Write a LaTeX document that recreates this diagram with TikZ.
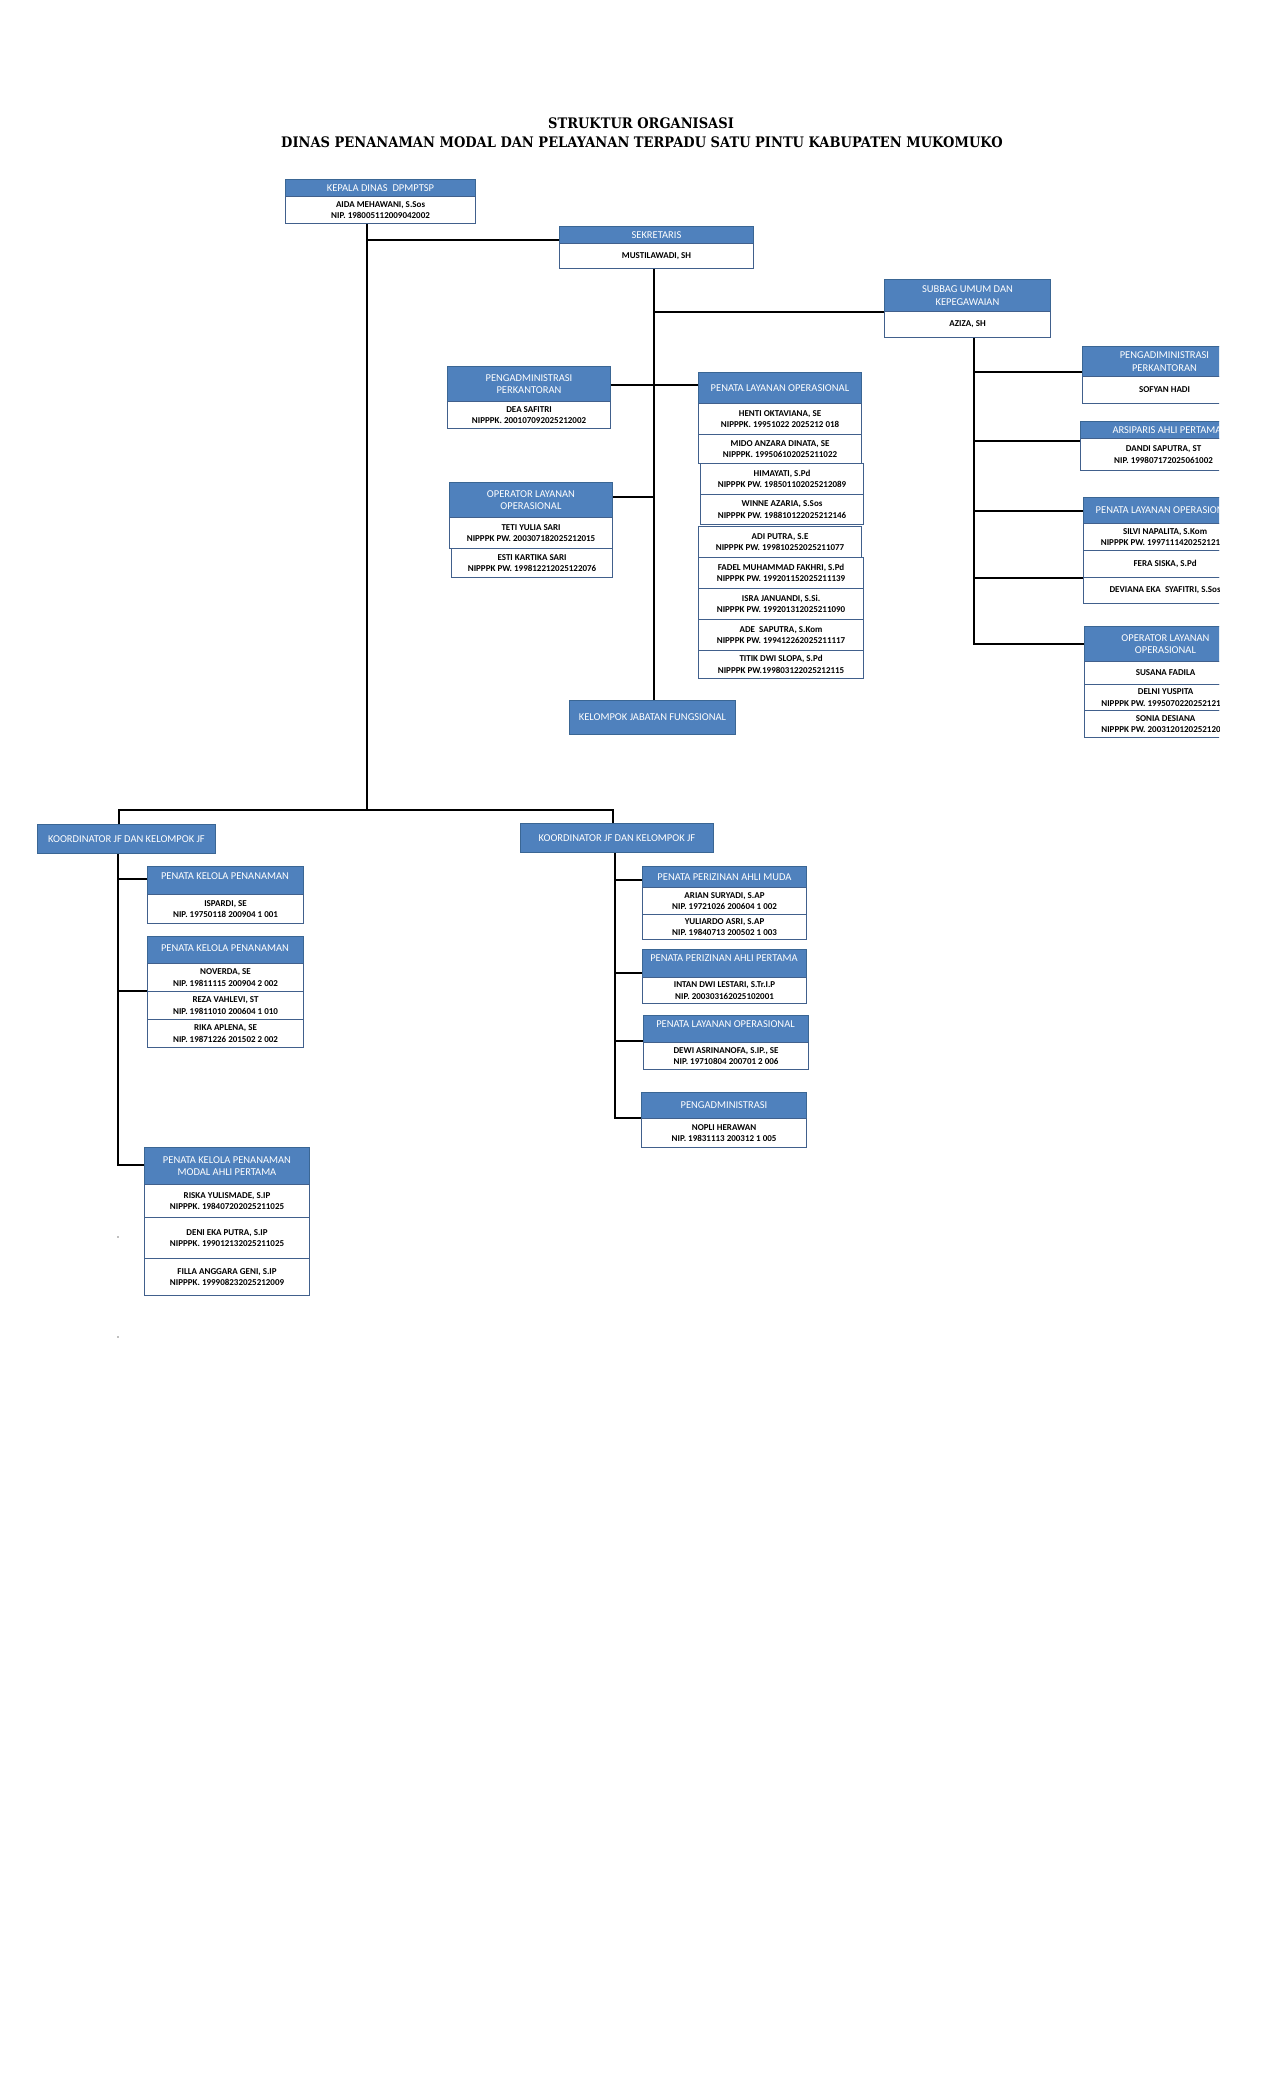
\documentclass[tikz,border=0pt]{standalone}
\usepackage{fontspec}
\usepackage{graphicx}
\setmainfont{Carlito}
\newfontfamily\titlefont{DejaVu Serif}
\definecolor{hdrblue}{HTML}{4F81BD}
\definecolor{hdrline}{HTML}{3A6694}
\definecolor{bodline}{HTML}{41608C}
\tikzset{
 hdr/.style={draw=hdrline, fill=hdrblue, line width=0.9pt, inner sep=0pt, text=white, font=\fontsize{10.5}{12.5}\selectfont, align=center},
 bod/.style={draw=bodline, fill=white, line width=1.1pt, inner sep=0pt, text=black, font=\fontsize{9}{11.5}\selectfont\bfseries, align=center},
 lbl/.style={inner sep=0pt, text=white, font=\fontsize{10.5}{12.5}\selectfont, align=center},
 conn/.style={line width=1.6pt, black},
 ttl/.style={inner sep=0pt, font=\titlefont\bfseries\fontsize{14.5}{17}\selectfont},
}
\newcommand\ubox[7]{\node[#1, anchor=north west, minimum width={(#5-#3)*1pt}, minimum height={(#6-#4)*1pt}] (#2) at (#3,#4) {#7};}
\begin{document}
\begin{tikzpicture}[x=1pt,y=-1pt]
\useasboundingbox[fill=white] (0,0) rectangle (1275,2100);
\begin{scope}
\clip (0,0) rectangle (1219,2100);
% title
\node[ttl] (title1) at (641,123) {\scalebox{0.9}[1]{STRUKTUR ORGANISASI}};
\node[ttl] (title2) at (642,142) {\scalebox{0.9}[1]{DINAS PENANAMAN MODAL DAN PELAYANAN TERPADU SATU PINTU KABUPATEN MUKOMUKO}};

% junction coordinates
\coordinate (mainx) at (367,810);
\coordinate (js) at (367,240);
\coordinate (sv) at (654,700);
\coordinate (b1) at (654,312);
\coordinate (b2) at (654,385);
\coordinate (b3) at (654,497);
\coordinate (uv) at (974,644);
\coordinate (u1) at (974,372);
\coordinate (u2) at (974,441);
\coordinate (u3) at (974,511);
\coordinate (u4) at (974,578);
\coordinate (bl) at (119,810);
\coordinate (br) at (613,810);
\coordinate (kv) at (118,1165);
\coordinate (k1) at (118,879);
\coordinate (k2) at (118,991);
\coordinate (rv) at (615,1118);
\coordinate (r1) at (615,880);
\coordinate (r2) at (615,973);
\coordinate (r3) at (615,1041);

% kepala dinas
\ubox{hdr}{kdh}{285}{179}{475}{196}{KEPALA DINAS\ \ DPMPTSP}
\ubox{bod}{kdb}{285}{196}{475}{223}{AIDA MEHAWANI, S.Sos\\NIP. 198005112009042002}
% sekretaris
\ubox{hdr}{sekh}{559}{226}{753}{243}{SEKRETARIS}
\ubox{bod}{sekb}{559}{243}{753}{268}{MUSTILAWADI, SH}
% subbag
\ubox{hdr}{subh}{884}{279}{1050}{311}{SUBBAG UMUM DAN\\KEPEGAWAIAN}
\ubox{bod}{subb}{884}{311}{1050}{337}{AZIZA, SH}

% right column
\ubox{hdr}{rpah}{1082}{346}{1246}{376}{PENGADIMINISTRASI\\PERKANTORAN}
\ubox{bod}{rpab}{1082}{376}{1246}{403}{SOFYAN HADI}
\ubox{hdr}{arsh}{1080}{421}{1246}{438}{}
\node[lbl] (arsh-t) at (1167,430) {ARSIPARIS AHLI PERTAMA};
\ubox{bod}{arsb}{1080}{438}{1246}{470}{DANDI SAPUTRA, ST\\NIP. 199807172025061002}
\ubox{hdr}{rplh}{1083}{497}{1246}{523}{PENATA LAYANAN OPERASIONAL}
\ubox{bod}{rpl1}{1083}{523}{1246}{550}{SILVI NAPALITA, S.Kom\\NIPPPK PW. 1997111420252121\phantom{00}}
\ubox{bod}{rpl2}{1083}{550}{1246}{577}{FERA SISKA, S.Pd}
\ubox{bod}{rpl3}{1083}{577}{1246}{603}{DEVIANA EKA\ \ SYAFITRI, S.Sos}
\ubox{hdr}{rolh}{1084}{626}{1246}{661}{OPERATOR LAYANAN\\OPERASIONAL}
\ubox{bod}{rol1}{1084}{661}{1246}{684}{SUSANA FADILA}
\ubox{bod}{rol2}{1084}{684}{1246}{710}{DELNI YUSPITA\\NIPPPK PW. 1995070220252121\phantom{00}}
\ubox{bod}{rol3}{1084}{710}{1246}{737}{SONIA DESIANA\\NIPPPK PW. 2003120120252120\phantom{00}}

% left column
\ubox{hdr}{lpah}{447}{366}{610}{401}{PENGADMINISTRASI\\PERKANTORAN}
\ubox{bod}{lpab}{447}{401}{610}{428}{DEA SAFITRI\\NIPPPK. 200107092025212002}
\ubox{hdr}{lolh}{449}{482}{612}{517}{OPERATOR LAYANAN\\OPERASIONAL}
\ubox{bod}{lol1}{449}{517}{612}{548}{TETI YULIA SARI\\NIPPPK PW. 200307182025212015}
\ubox{bod}{lol2}{451}{548}{612}{577}{ESTI KARTIKA SARI\\NIPPPK PW. 199812212025122076}

% middle column
\ubox{hdr}{mplh}{698}{372}{861}{403}{PENATA LAYANAN OPERASIONAL}
\ubox{bod}{m1}{698}{403}{861}{434}{HENTI OKTAVIANA, SE\\NIPPPK. 19951022 2025212 018}
\ubox{bod}{m2}{698}{434}{861}{463}{MIDO ANZARA DINATA, SE\\NIPPPK. 199506102025211022}
\ubox{bod}{m3}{700}{463}{863}{494}{HIMAYATI, S.Pd\\NIPPPK PW. 198501102025212089}
\ubox{bod}{m4}{700}{494}{863}{524}{WINNE AZARIA, S.Sos\\NIPPPK PW. 198810122025212146}
\ubox{bod}{m5}{698}{526}{861}{557}{ADI PUTRA, S.E\\NIPPPK PW. 199810252025211077}
\ubox{bod}{m6}{698}{557}{863}{588}{FADEL MUHAMMAD FAKHRI, S.Pd\\NIPPPK PW. 199201152025211139}
\ubox{bod}{m7}{698}{588}{863}{619}{ISRA JANUANDI, S.Si.\\NIPPPK PW. 199201312025211090}
\ubox{bod}{m8}{698}{619}{863}{650}{ADE\ \ SAPUTRA, S.Kom\\NIPPPK PW. 199412262025211117}
\ubox{bod}{m9}{698}{650}{863}{678}{TITIK DWI SLOPA, S.Pd\\NIPPPK PW.199803122025212115}

% kelompok jabatan fungsional
\ubox{hdr}{kjf}{569}{700}{735}{734}{KELOMPOK JABATAN FUNGSIONAL}

% bottom left
\ubox{hdr}{kl}{37}{824}{215}{853}{KOORDINATOR JF DAN KELOMPOK JF}
\ubox{hdr}{pk1h}{147}{866}{303}{894}{}
\node[lbl] (pk1h-t) at (225,876) {PENATA KELOLA PENANAMAN};
\ubox{bod}{pk1b}{147}{894}{303}{923}{ISPARDI, SE\\NIP. 19750118 200904 1 001}
\ubox{hdr}{pk2h}{147}{936}{303}{963}{}
\node[lbl] (pk2h-t) at (225,948) {PENATA KELOLA PENANAMAN};
\ubox{bod}{pk2a}{147}{963}{303}{991}{NOVERDA, SE\\NIP. 19811115 200904 2 002}
\ubox{bod}{pk2b}{147}{991}{303}{1019}{REZA VAHLEVI, ST\\NIP. 19811010 200604 1 010}
\ubox{bod}{pk2c}{147}{1019}{303}{1047}{RIKA APLENA, SE\\NIP. 19871226 201502 2 002}
\ubox{hdr}{pkmh}{144}{1147}{309}{1184}{PENATA KELOLA PENANAMAN\\MODAL AHLI PERTAMA}
\ubox{bod}{pkm1}{144}{1184}{309}{1217}{RISKA YULISMADE, S.IP\\NIPPPK. 198407202025211025}
\ubox{bod}{pkm2}{144}{1217}{309}{1258}{DENI EKA PUTRA, S.IP\\NIPPPK. 199012132025211025}
\ubox{bod}{pkm3}{144}{1258}{309}{1295}{FILLA ANGGARA GENI, S.IP\\NIPPPK. 199908232025212009}

% bottom right
\ubox{hdr}{kr}{520}{823}{713}{852}{KOORDINATOR JF DAN KELOMPOK JF}
\ubox{hdr}{pmh}{642}{866}{806}{887}{PENATA PERIZINAN AHLI MUDA}
\ubox{bod}{pm1}{642}{887}{806}{914}{ARIAN SURYADI, S.AP\\NIP. 19721026 200604 1 002}
\ubox{bod}{pm2}{642}{914}{806}{939}{YULIARDO ASRI, S.AP\\NIP. 19840713 200502 1 003}
\ubox{hdr}{pph}{642}{949}{806}{977}{}
\node[lbl] (pph-t) at (724,958) {PENATA PERIZINAN AHLI PERTAMA};
\ubox{bod}{pp1}{642}{977}{806}{1003}{INTAN DWI LESTARI, S.Tr.I.P\\NIP. 200303162025102001}
\ubox{hdr}{plh}{643}{1015}{808}{1042}{}
\node[lbl] (plh-t) at (725.5,1024) {PENATA LAYANAN OPERASIONAL};
\ubox{bod}{pl1}{643}{1042}{808}{1069}{DEWI ASRINANOFA, S.IP., SE\\NIP. 19710804 200701 2 006}
\ubox{hdr}{pgh}{641}{1092}{806}{1118}{PENGADMINISTRASI}
\ubox{bod}{pg1}{641}{1118}{806}{1147}{NOPLI HERAWAN\\NIP. 19831113 200312 1 005}

% connectors
\draw[conn] (kdb.south -| mainx) -- (mainx);
\draw[conn] (js) -- (js -| sekh.west);
\draw[conn] (sekb.south -| sv) -- (sv);
\draw[conn] (b1) -- (b1 -| subh.west);
\draw[conn] (b2 -| lpah.east) -- (b2 -| mplh.west);
\draw[conn] (b3 -| lolh.east) -- (b3);
\draw[conn] (subb.south -| uv) -- (uv) -- (uv -| rolh.west);
\draw[conn] (u1) -- (u1 -| rpah.west);
\draw[conn] (u2) -- (u2 -| arsh.west);
\draw[conn] (u3) -- (u3 -| rplh.west);
\draw[conn] (u4) -- (u4 -| rpl3.west);
\draw[conn] (kl.north -| bl) -- (bl) -- (br) -- (kr.north -| br);
\draw[conn] (kl.south -| kv) -- (kv) -- (kv -| pkmh.west);
\draw[conn] (k1) -- (k1 -| pk1h.west);
\draw[conn] (k2) -- (k2 -| pk2a.west);
\draw[conn] (kr.south -| rv) -- (rv) -- (rv -| pgh.west);
\draw[conn] (r1) -- (r1 -| pmh.west);
\draw[conn] (r2) -- (r2 -| pph.west);
\draw[conn] (r3) -- (r3 -| plh.west);

% stray dots
\fill[gray] (118,1237) circle (0.9);
\fill[gray] (118,1337) circle (0.9);
\end{scope}
\end{tikzpicture}
\end{document}
